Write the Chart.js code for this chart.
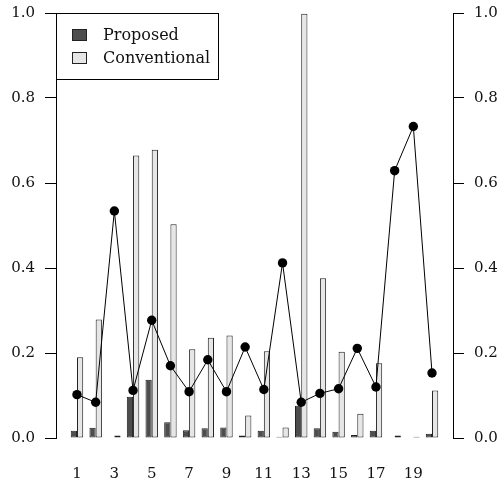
<!DOCTYPE html>
<html>
<head>
<meta charset="utf-8">
<script src="https://cdn.jsdelivr.net/npm/chart.js@4.4.1/dist/chart.umd.min.js"></script>
<style>
  html, body { margin: 0; padding: 0; background: #fff; }
  canvas { display: block; }
</style>
</head>
<body>
<canvas id="grafico" width="500" height="485"></canvas>
<script>
// data
const categorias = [1, 2, 3, 4, 5, 6, 7, 8, 9, 10, 11, 12, 13, 14, 15, 16, 17, 18, 19, 20];
const propuesto = [0.017, 0.024, 0.001, 0.097, 0.137, 0.037, 0.018, 0.023, 0.025, 0.006,
                   0.017, 0.003, 0.076, 0.023, 0.015, 0.007, 0.017, 0.001, 0.001, 0.010];
const convencional = [0.190, 0.279, 0.006, 0.665, 0.678, 0.503, 0.209, 0.236, 0.241, 0.053,
                      0.204, 0.025, 0.998, 0.376, 0.203, 0.057, 0.176, 0.006, 0.003, 0.112];
const linea = [0.102, 0.084, 0.534, 0.112, 0.277, 0.170, 0.109, 0.184, 0.109, 0.214,
               0.114, 0.412, 0.084, 0.105, 0.116, 0.211, 0.120, 0.629, 0.733, 0.153];
const xTicks = [1, 3, 5, 7, 9, 11, 13, 15, 17, 19];
const yTicks = [0, 0.2, 0.4, 0.6, 0.8, 1.0];
const leyenda = ["Proposed", "Conventional"];

const fuente = { family: "DejaVu Serif", size: 15 };
const fuenteLeyenda = "16px 'DejaVu Serif'";

const pares = (vals) => vals.map((v, i) => ({ x: categorias[i], y: v }));

// legend drawn inside the plot, top-left, like R's legend("topleft")
const leyendaPlugin = {
  id: "leyendaCaja",
  afterDatasetsDraw(chart) {
    const { ctx, chartArea } = chart;
    const x0 = chartArea.left, y0 = chartArea.top;
    ctx.save();
    ctx.fillStyle = "#fff";
    ctx.fillRect(x0, y0, 162, 66);
    ctx.strokeStyle = "#000";
    ctx.lineWidth = 1;
    ctx.strokeRect(x0 + 0.5, y0 + 0.5, 162, 66);
    ctx.font = fuenteLeyenda;
    ctx.textBaseline = "middle";
    chart.data.datasets.filter((d) => d.type === "bar").forEach((d, i) => {
      const cy = y0 + 22 + i * 23;
      ctx.fillStyle = d.backgroundColor;
      ctx.fillRect(x0 + 16.5, cy - 5.5, 14, 11);
      ctx.strokeStyle = "#222";
      ctx.strokeRect(x0 + 16.5, cy - 5.5, 14, 11);
      ctx.fillStyle = "#111";
      ctx.fillText(d.label, x0 + 47, cy + 1);
    });
    ctx.restore();
  },
};

const ajusteY = (ancho) => (s) => {
  s.width = ancho;
  s.paddingTop = 0;
  s.paddingBottom = 0;
};

const grafico = () => {
  const canvas = document.getElementById("grafico");
  new Chart(canvas, {
    data: {
      datasets: [
        {
          type: "line",
          label: "ratio",
          data: pares(linea),
          borderColor: "#000",
          borderWidth: 1,
          pointRadius: 4.7,
          pointBackgroundColor: "#000",
          pointBorderColor: "#000",
          pointBorderWidth: 0,
          tension: 0,
          yAxisID: "y",
          order: 1,
        },
        {
          type: "bar",
          label: leyenda[0],
          data: pares(propuesto),
          backgroundColor: "#4d4d4d",
          borderColor: "#222",
          borderWidth: 1,
          borderSkipped: false,
          categoryPercentage: 2 / 3,
          barPercentage: 1,
          yAxisID: "y",
          order: 2,
        },
        {
          type: "bar",
          label: leyenda[1],
          data: pares(convencional),
          backgroundColor: "#e6e6e6",
          borderColor: "#222",
          borderWidth: 1,
          borderSkipped: false,
          categoryPercentage: 2 / 3,
          barPercentage: 1,
          yAxisID: "y",
          order: 2,
        },
      ],
    },
    options: {
      responsive: false,
      animation: false,
      devicePixelRatio: 1,
      layout: { padding: { top: 13, left: 0, right: 0, bottom: 0 } },
      plugins: { legend: { display: false }, tooltip: { enabled: false } },
      scales: {
        x: {
          type: "linear",
          offset: false,
          min: -0.123,
          max: 21.123,
          grid: { display: false },
          border: { display: false },
          afterBuildTicks: (s) => { s.ticks = xTicks.map((v) => ({ value: v })); },
          afterFit: (s) => { s.height = 47; s.paddingLeft = 0; s.paddingRight = 0; },
          ticks: { font: fuente, color: "#111", padding: 19, maxRotation: 0, autoSkip: false },
        },
        y: {
          position: "left",
          min: 0,
          max: 1,
          grid: { drawOnChartArea: false, drawTicks: true, tickLength: 11, color: "#000" },
          border: { display: true, color: "#000" },
          afterBuildTicks: (s) => { s.ticks = yTicks.map((v) => ({ value: v })); },
          afterFit: ajusteY(56),
          ticks: { font: fuente, color: "#111", padding: 10, callback: (v) => v.toFixed(1) },
        },
        y2: {
          position: "right",
          display: true,
          min: 0,
          max: 1,
          grid: { drawOnChartArea: false, drawTicks: true, tickLength: 11, color: "#000" },
          border: { display: true, color: "#000" },
          afterBuildTicks: (s) => { s.ticks = yTicks.map((v) => ({ value: v })); },
          afterFit: ajusteY(47),
          ticks: { font: fuente, color: "#111", padding: 10, callback: (v) => v.toFixed(1) },
        },
      },
    },
    plugins: [leyendaPlugin],
  });
};

grafico();
</script>
</body>
</html>
